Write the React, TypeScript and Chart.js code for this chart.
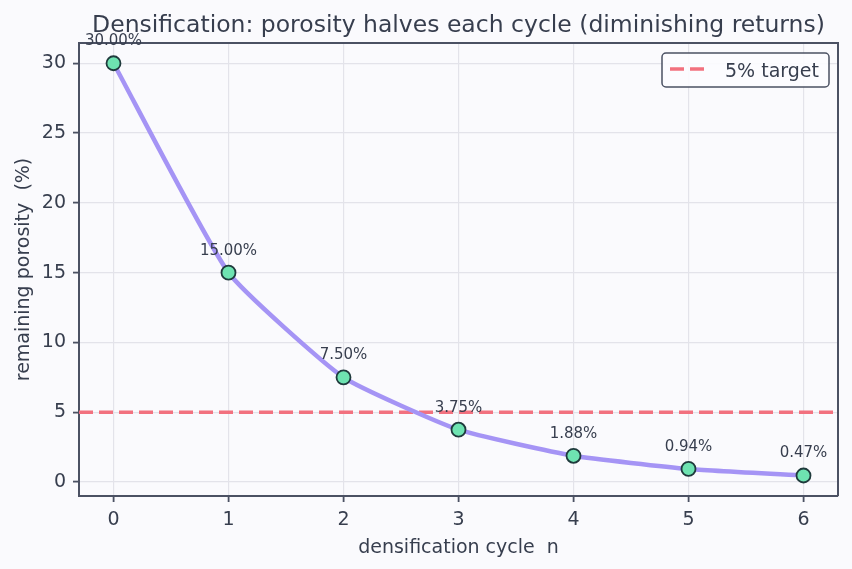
import { useEffect, useRef } from 'react';
import { Chart, registerables } from 'chart.js';

Chart.register(...registerables);

// Remaining porosity after each densification cycle
const cycles = [0, 1, 2, 3, 4, 5, 6];
const porosity = [30, 15, 7.5, 3.75, 1.88, 0.94, 0.47];

const xTickValues = [0, 1, 2, 3, 4, 5, 6];
const yTickValues = [0, 5, 10, 15, 20, 25, 30];

const targetPorosity = 5;
const targetLabel = '5% target';

const titleText = 'Densification: porosity halves each cycle (diminishing returns)';
const xAxisTitle = 'densification cycle  n';
const yAxisTitle = 'remaining porosity  (%)';

const FONT = '"DejaVu Sans", "Noto Sans", sans-serif';
const BG = '#fafafd';
const TEXT = '#373e4e';
const FRAME = '#4b5163';
const GRID = '#e3e3ea';
const LINE = '#a594f5';
const MARKER = '#6ee3b1';
const MARKER_EDGE = '#1f3a3c';
const TARGET = '#f2717f';

const decorPlugin = {
  id: 'decor',
  beforeDraw(chart: any) {
    const { ctx, width, height } = chart;
    ctx.save();
    ctx.fillStyle = BG;
    ctx.fillRect(0, 0, width, height);
    ctx.restore();
  },
  beforeDatasetsDraw(chart: any) {
    const { ctx, chartArea } = chart;
    const y = chart.scales.y.getPixelForValue(targetPorosity);
    ctx.save();
    ctx.strokeStyle = TARGET;
    ctx.lineWidth = 3.5;
    ctx.setLineDash([14, 6]);
    ctx.beginPath();
    ctx.moveTo(chartArea.left, y);
    ctx.lineTo(chartArea.right, y);
    ctx.stroke();
    ctx.restore();
  },
  afterDatasetsDraw(chart: any) {
    const { ctx, chartArea } = chart;
    const { left, right, top, bottom } = chartArea;
    ctx.save();

    // top and right spines
    ctx.strokeStyle = FRAME;
    ctx.lineWidth = 2;
    ctx.beginPath();
    ctx.moveTo(left, top);
    ctx.lineTo(right, top);
    ctx.lineTo(right, bottom);
    ctx.stroke();

    // value labels above each point
    const meta = chart.getDatasetMeta(0);
    ctx.fillStyle = TEXT;
    ctx.font = `15px ${FONT}`;
    ctx.textAlign = 'center';
    ctx.textBaseline = 'alphabetic';
    meta.data.forEach((pt: any, i: number) => {
      ctx.fillText(`${porosity[i].toFixed(2)}%`, pt.x, pt.y - 18);
    });

    // legend
    const lx = 662, ly = 53, lw = 167, lh = 34;
    ctx.beginPath();
    ctx.roundRect(lx, ly, lw, lh, 4);
    ctx.fillStyle = 'rgba(252,252,255,0.9)';
    ctx.fill();
    ctx.strokeStyle = FRAME;
    ctx.lineWidth = 1.5;
    ctx.stroke();
    ctx.strokeStyle = TARGET;
    ctx.lineWidth = 3.5;
    ctx.setLineDash([14, 6]);
    ctx.beginPath();
    ctx.moveTo(670, 69);
    ctx.lineTo(705, 69);
    ctx.stroke();
    ctx.setLineDash([]);
    ctx.fillStyle = TEXT;
    ctx.font = `19px ${FONT}`;
    ctx.textAlign = 'left';
    ctx.fillText(targetLabel, 725, 77);

    // title
    const cx = (left + right) / 2;
    ctx.textAlign = 'center';
    ctx.font = `23.5px ${FONT}`;
    ctx.fillText(titleText, cx, 32);

    // axis titles
    ctx.font = `19px ${FONT}`;
    ctx.fillText(xAxisTitle, cx, 553);
    ctx.translate(29, (top + bottom) / 2);
    ctx.rotate(-Math.PI / 2);
    ctx.fillText(yAxisTitle, 0, 0);

    ctx.restore();
  },
};

export default function App() {
  const canvasRef = useRef<HTMLCanvasElement | null>(null);

  useEffect(() => {
    if (!canvasRef.current) return;
    const chart = new Chart(canvasRef.current, {
      type: 'line',
      data: {
        datasets: [
          {
            data: cycles.map((c, i) => ({ x: c, y: porosity[i] })),
            borderColor: LINE,
            borderWidth: 4.5,
            tension: 0.15,
            pointRadius: 7,
            pointHoverRadius: 7,
            pointBackgroundColor: MARKER,
            pointBorderColor: MARKER_EDGE,
            pointBorderWidth: 1.8,
            clip: false,
          } as any,
        ],
      },
      options: {
        animation: false,
        responsive: false,
        events: [],
        layout: { padding: { top: 43, right: 14, left: 0, bottom: 0 } },
        plugins: {
          legend: { display: false },
          title: { display: false },
          tooltip: { enabled: false },
        },
        scales: {
          x: {
            type: 'linear',
            min: -0.3,
            max: 6.3,
            afterBuildTicks: (s: any) => {
              s.ticks = xTickValues.map((v) => ({ value: v }));
            },
            afterFit: (s: any) => {
              s.height = 73;
            },
            grid: {
              color: GRID,
              lineWidth: 1.2,
              drawTicks: true,
              tickLength: 6,
              tickColor: FRAME,
              tickWidth: 1.8,
            },
            border: { display: true, color: FRAME, width: 2 },
            ticks: {
              color: TEXT,
              font: { family: FONT, size: 19 },
              padding: 7,
              maxRotation: 0,
              autoSkip: false,
              callback: (v: any) => String(v),
            },
          },
          y: {
            type: 'linear',
            min: -1.0,
            max: 31.45,
            afterBuildTicks: (s: any) => {
              s.ticks = yTickValues.map((v) => ({ value: v }));
            },
            afterFit: (s: any) => {
              s.width = 79;
            },
            grid: {
              color: GRID,
              lineWidth: 1.2,
              drawTicks: true,
              tickLength: 6,
              tickColor: FRAME,
              tickWidth: 1.8,
            },
            border: { display: true, color: FRAME, width: 2 },
            ticks: {
              color: TEXT,
              font: { family: FONT, size: 19 },
              padding: 7,
              autoSkip: false,
              callback: (v: any) => String(v),
            },
          },
        },
      } as any,
      plugins: [decorPlugin],
    });
    return () => chart.destroy();
  }, []);

  return (
    <div style={{ position: 'fixed', left: 0, top: 0, width: 852, height: 569, background: BG }}>
      <canvas ref={canvasRef} width={852} height={569} style={{ display: 'block', width: 852, height: 569 }} />
    </div>
  );
}
